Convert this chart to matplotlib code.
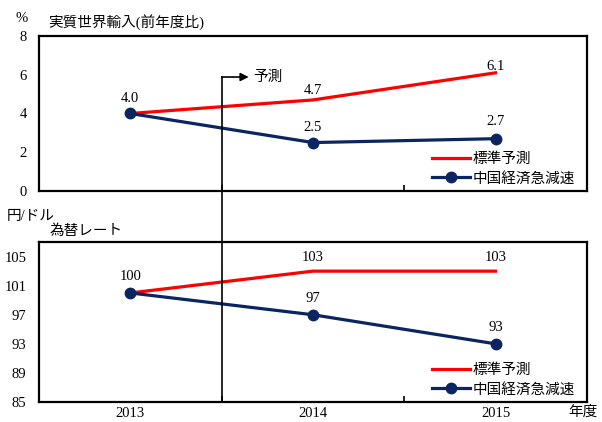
import matplotlib
matplotlib.use("Agg")
import matplotlib.pyplot as plt
from matplotlib.lines import Line2D

plt.rcParams['font.family'] = ['Liberation Serif', 'Noto Sans CJK JP']

years = ["2013", "2014", "2015"]
imports_std = [4.0, 4.7, 6.1]      # 実質世界輸入 標準予測
imports_china = [4.0, 2.5, 2.7]    # 中国経済急減速
fx_std = [100, 103, 103]           # 為替レート 標準予測
fx_china = [100, 97, 93]           # 中国経済急減速
import_labels = [["", "4.7", "6.1"], ["4.0", "2.5", "2.7"]]
fx_labels = [["", "103", "103"], ["100", "97", "93"]]

red = "#ff0000"
navy = "#0a2560"
fs = 10.5

fig = plt.figure(figsize=(6.02, 4.22), dpi=100)
ax1 = fig.add_axes([0.0648, 0.5474, 0.910, 0.3673])
ax2 = fig.add_axes([0.0648, 0.0474, 0.910, 0.379])

x = list(range(len(years)))


def draw(ax, std, china, labels, offs):
    ax.plot(x, std, color=red, lw=2.3, label="標準予測")
    ax.plot(x, china, color=navy, lw=2.3, marker="o", ms=7.5, label="中国経済急減速")
    for i in x:
        if labels[0][i]:
            ax.annotate(labels[0][i], (i, std[i]), xytext=(0, offs[0][i]),
                        textcoords="offset points", ha="center", va="bottom", fontsize=fs)
        ax.annotate(labels[1][i], (i, china[i]), xytext=(0, offs[1][i]),
                    textcoords="offset points", ha="center", va="bottom", fontsize=fs)
    ax.set_xlim(-0.5, 2.5)
    for s in ax.spines.values():
        s.set_linewidth(1.6)
    ax.set_xticks([0.5, 1.5])
    ax.tick_params(axis="x", direction="in", length=4, width=1.2, labelbottom=False)
    ax.tick_params(axis="y", length=0, labelsize=fs, pad=9)
    ax.legend(loc="lower right", bbox_to_anchor=(0.995, -0.02), frameon=False,
              fontsize=fs, handlelength=2.6, labelspacing=0.35, handletextpad=0.2,
              borderaxespad=0.2)


draw(ax1, imports_std, imports_china, import_labels, [[0, 2, 0], [6, 6, 8]])
ax1.set_ylim(0, 8)
ax1.set_yticks([0, 2, 4, 6, 8])

draw(ax2, fx_std, fx_china, fx_labels, [[0, 5, 5], [7, 7, 7]])
ax2.set_ylim(85, 107)
ax2.set_yticks([85, 89, 93, 97, 101, 105])

for i, y in enumerate(years):
    ax2.text(i, -0.03, y, transform=ax2.get_xaxis_transform(), ha="center", va="top", fontsize=fs)

# forecast divider running through both panels, with arrow
xdiv = 0.0648 + 0.910 / 3
ydiv = 0.8175
fig.add_artist(Line2D([xdiv, xdiv], [0.0474, ydiv], color="black", lw=1.2))
ax1.annotate("", xy=(xdiv + 0.045, ydiv), xytext=(xdiv, ydiv),
             xycoords="figure fraction", textcoords="figure fraction",
             arrowprops=dict(arrowstyle="-|>", color="black", lw=1.2, mutation_scale=12,
                             shrinkA=0, shrinkB=0))
fig.text(xdiv + 0.052, ydiv, "予測", fontsize=fs, va="center", ha="left")

fig.text(0.025, 0.955, "%", fontsize=fs, va="center")
fig.text(0.080, 0.948, "実質世界輸入(前年度比)", fontsize=fs, va="center")
fig.text(0.012, 0.487, "円/ドル", fontsize=fs, va="center")
fig.text(0.082, 0.452, "為替レート", fontsize=fs, va="center")
fig.text(0.993, 0.024, "年度", fontsize=fs, va="center", ha="right")

fig.savefig("out.png", dpi=100)
